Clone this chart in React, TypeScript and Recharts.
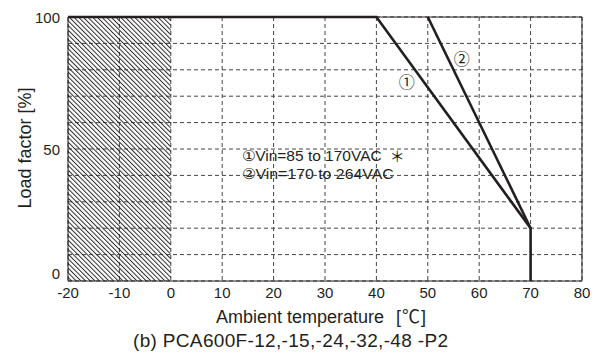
import React from 'react';
import {
  ComposedChart,
  Line,
  XAxis,
  YAxis,
  CartesianGrid,
  ReferenceArea,
  ReferenceDot,
} from 'recharts';

// Derating curve 1: Vin=85 to 170VAC
const temp1 = [-20, 40, 70, 70];
const load1 = [100, 100, 20, 0];
// Derating curve 2: Vin=170 to 264VAC
const temp2 = [50, 70];
const load2 = [100, 20];

const xTicks = [-20, -10, 0, 10, 20, 30, 40, 50, 60, 70, 80];
const yTicks = [0, 10, 20, 30, 40, 50, 60, 70, 80, 90, 100];
const yLabelled = [0, 50, 100];

const legendLines = ['①Vin=85 to 170VAC', '②Vin=170 to 264VAC'];
const legendMark = '＊';
const curveMarks = ['①', '②'];
const xTitle = 'Ambient temperature';
const xUnit = '℃';
const yTitle = 'Load factor [%]';
const caption = '(b) PCA600F-12,-15,-24,-32,-48 -P2';

const series1 = temp1.map((t, i) => ({ t, load: load1[i] }));
const series2 = temp2.map((t, i) => ({ t, load: load2[i] }));

const INK = '#231f20';
const FONT = '"Liberation Sans", Arial, sans-serif';
const CJK = '"Noto Sans CJK JP", "DejaVu Sans", sans-serif';

const YTick = (props: any) => {
  const { x, y, payload } = props;
  const v = payload.value;
  if (!yLabelled.includes(v)) return null;
  const shift = v === 0 ? -7.5 : 0;
  return (
    <text x={x} y={y + shift} textAnchor="end" dominantBaseline="central" fontSize={15} fill={INK} fontFamily={FONT}>
      {v}
    </text>
  );
};

const legendLabel = (text: string, len: number, mark?: string) => (props: any) => {
  const vb = props.viewBox || {};
  return (
    <g>
      <text x={vb.x} y={vb.y} textAnchor="start" dominantBaseline="central" fontSize={15} fill={INK} fontFamily={FONT} textLength={len} lengthAdjust="spacingAndGlyphs">
        {text}
      </text>
      {mark ? (
        <text x={vb.x + len + 8} y={vb.y} textAnchor="start" dominantBaseline="central" fontSize={15} fill={INK} fontFamily={CJK}>
          {mark}
        </text>
      ) : null}
    </g>
  );
};

export default function App() {
  return (
    <div style={{ position: 'absolute', left: 0, top: 0, width: 595, height: 359, background: '#fff' }}>
      <svg width={0} height={0} style={{ position: 'absolute' }}>
        <defs>
          <pattern id="hatch" width={3.3} height={3.3} patternUnits="userSpaceOnUse" patternTransform="rotate(-45)">
            <line x1={0.5} y1={0} x2={0.5} y2={3.3} stroke="#231f20" strokeWidth={0.95} />
          </pattern>
        </defs>
      </svg>
      <ComposedChart
        width={595}
        height={359}
        margin={{ top: 17, right: 13, left: 28, bottom: 48 }}
        style={{ position: 'absolute', left: 0, top: 0 }}
      >
        <CartesianGrid stroke="#444" strokeDasharray="4 3" strokeWidth={1} />
        <ReferenceArea x1={-20} x2={0} y1={0} y2={100} fill="url(#hatch)" fillOpacity={1} stroke="none" />
        <ReferenceArea x1={-20} x2={80} y1={0} y2={100} fill="none" stroke={INK} strokeWidth={1} />
        <XAxis
          type="number"
          dataKey="t"
          domain={[-20, 80]}
          ticks={xTicks}
          allowDataOverflow
          axisLine={false}
          tickLine={false}
          tickSize={6}
          tickMargin={0}
          height={30}
          tick={{ fontSize: 15, fill: INK, fontFamily: FONT }}
        />
        <YAxis
          type="number"
          domain={[0, 100]}
          ticks={yTicks}
          width={40}
          axisLine={false}
          tickLine={false}
          tickSize={6}
          tickMargin={2}
          interval={0}
          tick={<YTick />}
        />
        <Line data={series1} dataKey="load" type="linear" stroke={INK} strokeWidth={2.6} dot={false} isAnimationActive={false} />
        <Line data={series2} dataKey="load" type="linear" stroke={INK} strokeWidth={2.6} dot={false} isAnimationActive={false} />
        <ReferenceDot x={45.9} y={75.4} r={0} label={{ value: curveMarks[0], fontSize: 16, fill: INK, position: 'center', fontFamily: CJK }} />
        <ReferenceDot x={56.6} y={84.1} r={0} label={{ value: curveMarks[1], fontSize: 16, fill: INK, position: 'center', fontFamily: CJK }} />
        <ReferenceDot x={13.8} y={47.7} r={0} label={legendLabel(legendLines[0], 140, legendMark)} />
        <ReferenceDot x={13.8} y={40.9} r={0} label={legendLabel(legendLines[1], 152)} />
      </ComposedChart>
      <svg width={595} height={359} style={{ position: 'absolute', left: 0, top: 0, pointerEvents: 'none' }}>
        <text x={216} y={323.3} textAnchor="start" fontSize={18} fill={INK} fontFamily={FONT}>
          {xTitle}
        </text>
        <text x={396} y={323.3} textAnchor="start" fontSize={18} fill={INK} fontFamily={FONT}>
          [<tspan fontFamily={CJK} dx={1}>{xUnit}</tspan><tspan dx={1}>]</tspan>
        </text>
        <text x={133} y={346.7} textAnchor="start" fontSize={19} fill={INK} fontFamily={FONT} textLength={315} lengthAdjust="spacing">
          {caption}
        </text>
        <text
          x={25}
          y={148}
          transform="rotate(-90 25 148)"
          textAnchor="middle"
          dominantBaseline="central"
          fontSize={18}
          fill={INK}
          fontFamily={FONT}
        >
          {yTitle}
        </text>
      </svg>
    </div>
  );
}
